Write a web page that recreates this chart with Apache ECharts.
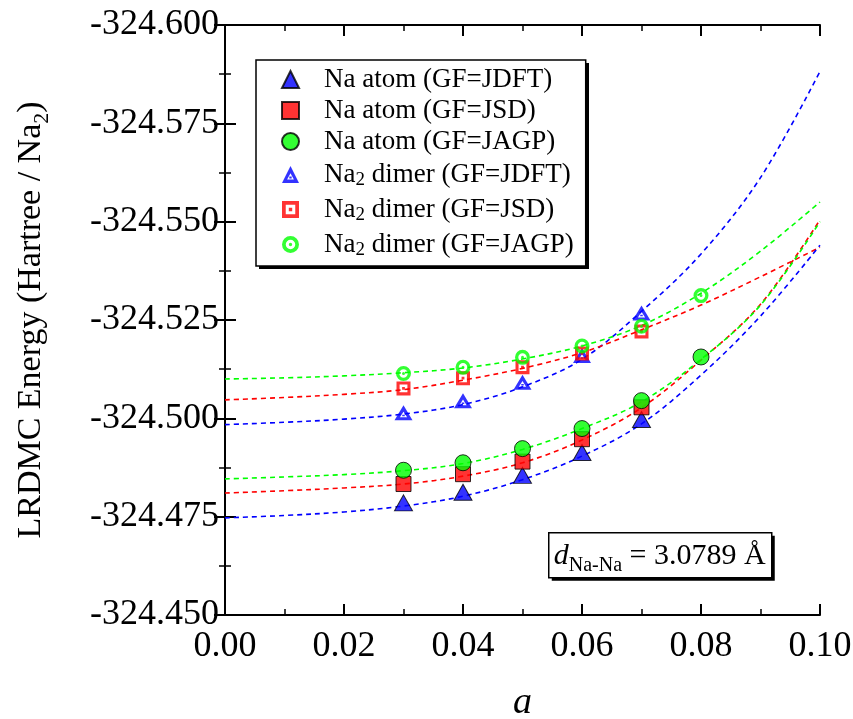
<!DOCTYPE html>
<html>
<head>
<meta charset="utf-8">
<script src="https://cdn.jsdelivr.net/npm/echarts@6/dist/echarts.min.js"></script>
<style>
html,body{margin:0;padding:0;background:#fff;}
#chart{width:853px;height:719px;}
</style>
</head>
<body>
<div id="chart"></div>
<script>
// ---------- data ----------
const seriesNames = [
  'Na atom (GF=JDFT)',
  'Na atom (GF=JSD)',
  'Na atom (GF=JAGP)',
  'Na2 dimer (GF=JDFT)',
  'Na2 dimer (GF=JSD)',
  'Na2 dimer (GF=JAGP)'
];
const xTicks = [0.00, 0.02, 0.04, 0.06, 0.08, 0.10];
const yTicks = [-324.600, -324.575, -324.550, -324.525, -324.500, -324.475, -324.450];

const aPts5 = [0.03, 0.04, 0.05, 0.06, 0.07];
const aPts6 = [0.03, 0.04, 0.05, 0.06, 0.07, 0.08];

const atomJDFT  = [-324.4785, -324.4812, -324.4855, -324.4913, -324.4997];
const atomJSD   = [-324.4833, -324.4858, -324.4890, -324.4947, -324.5028];
const atomJAGP  = [-324.4868, -324.4887, -324.4923, -324.4974, -324.5045, -324.5156];
const dimerJDFT = [-324.5014, -324.5045, -324.5092, -324.5160, -324.5268];
const dimerJSD  = [-324.5076, -324.5102, -324.5130, -324.5165, -324.5221];
const dimerJAGP = [-324.5114, -324.5130, -324.5155, -324.5184, -324.5234, -324.5312];

// dashed fit curves at these a values
const aFit = [0.00, 0.01, 0.02, 0.03, 0.04, 0.05, 0.06, 0.07, 0.08, 0.09, 0.10];
const fitAtomJDFT  = [-324.4747, -324.4753, -324.4762, -324.4777, -324.4802, -324.4844, -324.4904, -324.4986, -324.5110, -324.5260, -324.5440];
const fitAtomJSD   = [-324.4810, -324.4816, -324.4823, -324.4833, -324.4853, -324.4887, -324.4945, -324.5027, -324.5148, -324.5290, -324.5505];
const fitAtomJAGP  = [-324.4846, -324.4851, -324.4857, -324.4867, -324.4885, -324.4921, -324.4974, -324.5042, -324.5150, -324.5288, -324.5500];
const fitDimerJDFT = [-324.4984, -324.4990, -324.4998, -324.5011, -324.5035, -324.5080, -324.5150, -324.5272, -324.5418, -324.5612, -324.5882];
const fitDimerJSD  = [-324.5047, -324.5053, -324.5061, -324.5073, -324.5097, -324.5127, -324.5167, -324.5225, -324.5288, -324.5360, -324.5435];
const fitDimerJAGP = [-324.5100, -324.5103, -324.5108, -324.5116, -324.5128, -324.5151, -324.5184, -324.5236, -324.5318, -324.5425, -324.5550];

// ---------- build ----------
const BLUE = '#0000ff', RED = '#ff0000', GREEN = '#00ff00';
const FONT = 'Liberation Serif';

const pair = (xs, ys) => xs.map((x, i) => [x, ys[i]]);

const openCircle = 'path://M50,0 A50,50 0 1,1 50,100 A50,50 0 1,1 50,0 Z M50,22 A28,28 0 1,0 50,78 A28,28 0 1,0 50,22 Z M50,40 A10,10 0 1,1 50,60 A10,10 0 1,1 50,40 Z';
const openSquare = 'path://M0,0 H100 V100 H0 Z M22,22 V78 H78 V22 Z M40,40 H60 V60 H40 Z';
const openTriangle = 'path://M50,0 L100,100 L0,100 Z M50,42 L30,80 L70,80 Z M43,62 H57 V73 H43 Z';

function fitLine(name, data, color) {
  return {
    name: name, type: 'line', data: pair(aFit, data), smooth: 0.35,
    showSymbol: false, symbol: 'none', silent: true, z: 1,
    lineStyle: { color: color, width: 1.6, type: [5, 4] }
  };
}
function scatter(name, xs, ys, symbol, size, color, filled) {
  return {
    name: name, type: 'scatter', data: pair(xs, ys), symbol: symbol, symbolSize: size, z: 5,
    itemStyle: filled ? { color: color, borderColor: '#000', borderWidth: 1 } : { color: color }
  };
}

const axisCommon = {
  type: 'value',
  axisLine: { show: true, lineStyle: { color: '#000', width: 2 } },
  axisTick: { show: true, inside: true, length: 11, lineStyle: { color: '#000', width: 2 } },
  minorTick: { show: true, splitNumber: 2, length: 6, lineStyle: { color: '#000', width: 1.5 } },
  splitLine: { show: false }
};

const chart = echarts.init(document.getElementById('chart'), null, { renderer: 'canvas' });
chart.setOption({
  backgroundColor: '#fff',
  animation: false,
  grid: { left: 225, right: 33, top: 25, bottom: 104, containLabel: false, outerBoundsMode: 'none' },
  xAxis: [
    Object.assign({}, axisCommon, {
      position: 'bottom', min: xTicks[0], max: xTicks[xTicks.length - 1], interval: 0.02,
      axisLabel: { color: '#000', fontFamily: FONT, fontSize: 36, margin: 14,
        formatter: v => v.toFixed(2) },
      name: 'a', nameLocation: 'middle', nameGap: 69,
      nameTextStyle: { color: '#000', fontFamily: FONT, fontSize: 38, fontStyle: 'italic', fontWeight: 'normal' }
    }),
    Object.assign({}, axisCommon, {
      position: 'top', min: xTicks[0], max: xTicks[xTicks.length - 1], interval: 0.02,
      axisLabel: { show: false }
    })
  ],
  yAxis: [
    Object.assign({}, axisCommon, {
      position: 'left', inverse: true, min: yTicks[0], max: yTicks[yTicks.length - 1], interval: 0.025,
      axisLabel: { color: '#000', fontFamily: FONT, fontSize: 36, margin: 6,
        formatter: v => v.toFixed(3) },
      name: 'LRDMC Energy (Hartree / Na{sub|2})', nameLocation: 'middle', nameGap: 172, nameRotate: 90,
      nameTextStyle: { color: '#000', fontFamily: FONT, fontSize: 34, fontWeight: 'normal', lineHeight: 36,
        rich: { sub: { fontFamily: FONT, fontSize: 22, fontWeight: 'normal', verticalAlign: 'bottom', lineHeight: 44 } } }
    }),
    Object.assign({}, axisCommon, {
      position: 'right', inverse: true, min: yTicks[0], max: yTicks[yTicks.length - 1], interval: 0.025,
      axisLabel: { show: false }
    })
  ],
  legend: {
    orient: 'vertical', left: 256, top: 60,
    data: seriesNames,
    backgroundColor: '#fff', borderColor: '#000', borderWidth: 1.5,
    padding: [6, 12, 6, 25],
    itemWidth: 17, itemHeight: 17, itemGap: 4,
    selectedMode: false,
    textStyle: { color: '#000', fontFamily: FONT, fontSize: 27, lineHeight: 27, padding: [0, 0, 0, 20],
      rich: { sub: { fontFamily: FONT, fontSize: 19, verticalAlign: 'bottom', lineHeight: 31 } } },
    formatter: n => n.replace('Na2', 'Na{sub|2}')
  },
  graphic: [
    // legend box shadow
    { type: 'rect', z: 0, silent: true, shape: { x: 259, y: 63, width: 330, height: 206 }, style: { fill: '#000' } },
    // annotation box
    { type: 'group', left: 548, top: 532, z: 10,
      children: [
        { type: 'rect', shape: { x: 3, y: 3, width: 223, height: 45 }, style: { fill: '#000' } },
        { type: 'rect', shape: { x: 0, y: 0, width: 223, height: 45 },
          style: { fill: '#fff', stroke: '#000', lineWidth: 1.5 } },
        { type: 'text', x: 5, y: 3,
          style: { text: '{d|d}{s|Na-Na}{t| = 3.0789 Å}', fill: '#000', rich: {
            d: { fontFamily: FONT, fontSize: 30, fontStyle: 'italic' },
            s: { fontFamily: FONT, fontSize: 20, lineHeight: 40, verticalAlign: 'bottom' },
            t: { fontFamily: FONT, fontSize: 30 } } } }
      ]
    }
  ],
  series: [
    fitLine('fitDimerJDFT', fitDimerJDFT, BLUE),
    fitLine('fitDimerJSD', fitDimerJSD, RED),
    fitLine('fitDimerJAGP', fitDimerJAGP, GREEN),
    fitLine('fitAtomJDFT', fitAtomJDFT, BLUE),
    fitLine('fitAtomJSD', fitAtomJSD, RED),
    fitLine('fitAtomJAGP', fitAtomJAGP, GREEN),
    scatter(seriesNames[3], aPts5, dimerJDFT, openTriangle, [18, 15], BLUE, false),
    scatter(seriesNames[4], aPts5, dimerJSD, openSquare, 14, RED, false),
    scatter(seriesNames[5], aPts6, dimerJAGP, openCircle, 15, GREEN, false),
    scatter(seriesNames[0], aPts5, atomJDFT, 'triangle', [18, 16], BLUE, true),
    scatter(seriesNames[1], aPts5, atomJSD, 'rect', 15, RED, true),
    scatter(seriesNames[2], aPts6, atomJAGP, 'circle', 16, GREEN, true)
  ]
});
</script>
</body>
</html>
